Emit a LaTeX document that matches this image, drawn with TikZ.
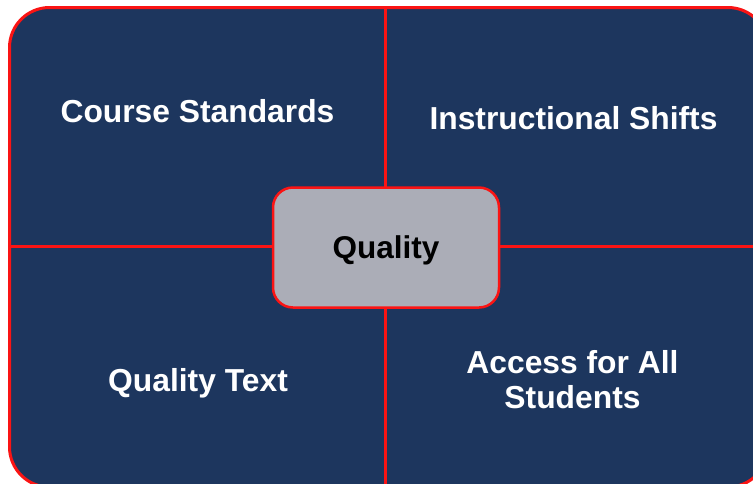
\documentclass[tikz,border=0pt]{standalone}
\usepackage{fontspec}
\setmainfont{Liberation Sans}
\definecolor{navy}{RGB}{29,54,94}
\definecolor{redline}{RGB}{250,20,20}
\definecolor{qgray}{RGB}{171,173,183}
\tikzset{
  frame/.style={draw=redline, line width=3pt, fill=navy, rounded corners=40pt},
  divider/.style={draw=redline, line width=3pt},
  label/.style={text=white, font=\fontsize{31.8}{35}\selectfont\bfseries, anchor=base, align=center, inner sep=0pt},
  centerbox/.style={draw=redline, line width=2.5pt, fill=qgray, rounded corners=20pt, minimum width=226pt, minimum height=120pt, inner sep=0pt, font=\fontsize{31.5}{35}\selectfont\bfseries, text=black}
}
\begin{document}
\begin{tikzpicture}[x=1pt,y=-1pt]
\useasboundingbox (0,0) rectangle (753,483);
\clip (0,0) rectangle (753,483);
\path[frame, draw=none] (9.5,7.5) rectangle (768,487);
\coordinate (vt) at (385.7,7.5);
\coordinate (vb) at (385.7,487);
\coordinate (hl) at (9.5,246.7);
\coordinate (hr) at (768,246.7);
\draw[divider] (vt) -- (vb);
\draw[divider] (hl) -- (hr);
\path[frame, fill=none] (9.5,7.5) rectangle (768,487);
\node[centerbox] (quality) at (386,247.5) {};
\node[font=\fontsize{31.5}{35}\selectfont\bfseries, text=black, anchor=base, inner sep=0pt] (qlabel) at (386,258.5) {Quality};
\node[label] (cs) at (197.5,122.3) {Course Standards};
\node[label] (is) at (573.5,129.3) {Instructional Shifts};
\node[label] (qt) at (198,391.7) {Quality Text};
\node[label] (afa) at (572.5,408.3) {Access for All\\Students};
\end{tikzpicture}
\end{document}
